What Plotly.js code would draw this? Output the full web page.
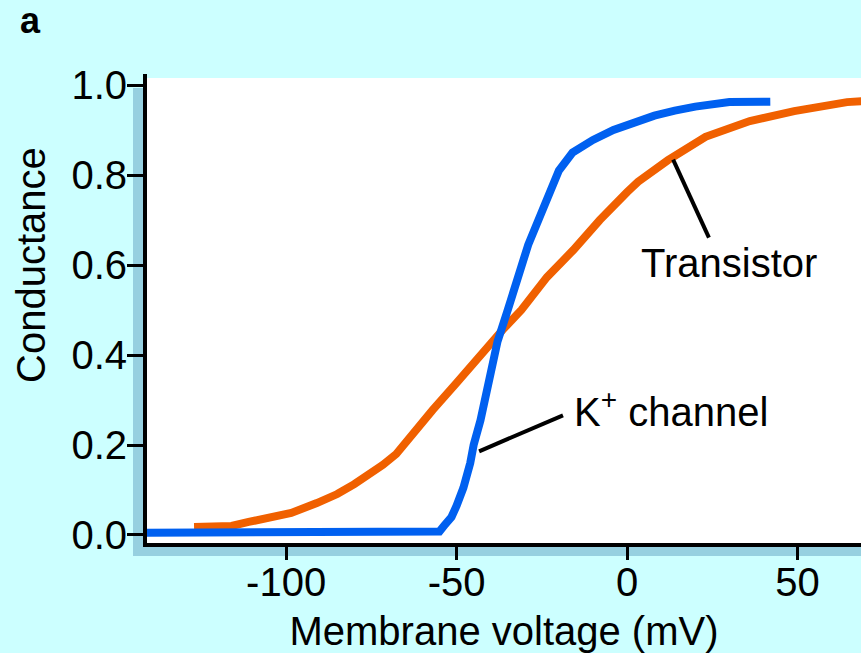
<!DOCTYPE html>
<html>
<head>
<meta charset="utf-8">
<script src="https://cdn.plot.ly/plotly-3.0.1.min.js"></script>
<style>
  html, body { margin: 0; padding: 0; background: #ccffff; }
  #chart { width: 861px; height: 653px; }
</style>
</head>
<body>
<div id="chart"></div>
<script>
// K+ channel conductance vs membrane voltage (mV)
const kVoltage = [-141, -100, -60, -55, -53.5, -51.5, -50, -48, -46, -45, -43, -41, -38, -35, -32, -29, -26, -23, -20, -16, -10, -4, 2, 8, 14, 20, 30, 42];
const kConductance = [0.005, 0.005, 0.005, 0.008, 0.022, 0.04, 0.065, 0.105, 0.16, 0.2, 0.255, 0.32, 0.43, 0.5, 0.575, 0.645, 0.70, 0.76, 0.81, 0.85, 0.878, 0.9, 0.918, 0.932, 0.943, 0.952, 0.962, 0.963];

// Transistor conductance vs membrane voltage (mV)
const trVoltage = [-127, -116, -111, -105, -98.5, -91, -85, -80, -76, -71.6, -67.7, -62.8, -57, -50, -45, -41, -36, -31, -23.5, -15.8, -8, 0, 3.2, 12, 23, 36, 49, 64.5, 72];
const trConductance = [0.018, 0.02, 0.029, 0.04, 0.049, 0.071, 0.091, 0.113, 0.133, 0.156, 0.18, 0.228, 0.278, 0.338, 0.384, 0.42, 0.46, 0.5, 0.573, 0.633, 0.70, 0.762, 0.785, 0.833, 0.885, 0.92, 0.942, 0.962, 0.966];

// Tick labels
const xTickVals = [-100, -50, 0, 50];
const xTickText = ['-100', '-50', '0', '50'];
const yTickVals = [0, 0.2, 0.4, 0.6, 0.8, 1.0];
const yTickText = ['0.0', '0.2', '0.4', '0.6', '0.8', '1.0'];

const FONT = 'Liberation Sans, Arial, Helvetica, sans-serif';
const SHADOW = '#96d0e0';

const traces = [
  {
    x: trVoltage, y: trConductance, name: 'Transistor',
    type: 'scatter', mode: 'lines',
    line: { color: '#f06000', width: 8 },
    hoverinfo: 'skip'
  },
  {
    x: kVoltage, y: kConductance, name: 'K+ channel',
    type: 'scatter', mode: 'lines',
    line: { color: '#0060f0', width: 8 },
    hoverinfo: 'skip'
  }
];

const layout = {
  width: 861, height: 653,
  margin: { l: 147, r: 0, t: 78, b: 110, pad: 0 },
  paper_bgcolor: '#ccffff',
  plot_bgcolor: '#ffffff',
  showlegend: false,
  font: { family: FONT, size: 40, color: '#000' },
  xaxis: {
    range: [-140.8, 68.6],
    tickvals: xTickVals, ticktext: xTickText,
    ticks: 'outside', ticklen: 13, tickwidth: 3, tickcolor: '#000',
    ticklabelstandoff: -12,
    showline: true, linewidth: 4, linecolor: '#000',
    showgrid: false, zeroline: false,
    tickfont: { family: FONT, size: 40, color: '#000' },
    title: { text: 'Membrane voltage (mV)', font: { family: FONT, size: 40, color: '#000' }, standoff: 16 },
    automargin: false
  },
  yaxis: {
    range: [-0.0178, 1.0156],
    tickvals: yTickVals, ticktext: yTickText,
    ticks: 'outside', ticklen: 16, tickwidth: 3, tickcolor: '#000',
    ticklabelstandoff: -8,
    showline: true, linewidth: 4, linecolor: '#000',
    showgrid: false, zeroline: false,
    tickfont: { family: FONT, size: 40, color: '#000' },
    automargin: false
  },
  shapes: [
    // drop shadow left of the plot
    { type: 'rect', xref: 'paper', yref: 'paper', x0: -0.0196, x1: -0.0056, y0: -0.028, y1: 0.9785,
      fillcolor: SHADOW, line: { width: 0 }, layer: 'below' },
    // drop shadow under the plot
    { type: 'rect', xref: 'paper', yref: 'paper', x0: -0.0196, x1: 1.0, y0: -0.028, y1: -0.0086,
      fillcolor: SHADOW, line: { width: 0 }, layer: 'below' },
    // y-axis line stub above plot
    { type: 'rect', xref: 'paper', yref: 'paper', x0: -0.0056, x1: 0, y0: 1, y1: 1.0086,
      fillcolor: '#000', line: { width: 0 }, layer: 'above' },
    // pointer to K+ channel curve
    { type: 'line', xref: 'x', yref: 'y', x0: -43.4, y0: 0.186, x1: -18.8, y1: 0.266,
      line: { color: '#000', width: 4 } },
    // pointer to Transistor curve
    { type: 'line', xref: 'x', yref: 'y', x0: 13.5, y0: 0.834, x1: 24.0, y1: 0.661,
      line: { color: '#000', width: 4 } }
  ],
  annotations: [
    { text: 'Conductance', textangle: -90, xref: 'paper', yref: 'paper',
      x: -0.1625, y: 0.598, xanchor: 'center', yanchor: 'middle', showarrow: false,
      font: { family: FONT, size: 40, color: '#000' } },
    { text: '<b>a</b>', xref: 'paper', yref: 'paper', x: -0.18, y: 1.1226,
      xanchor: 'left', yanchor: 'middle', showarrow: false,
      font: { family: FONT, size: 36, color: '#000' } },
    { text: 'K<sup>+</sup> channel', xref: 'x', yref: 'y', x: -16.1, y: 0.28,
      xanchor: 'left', yanchor: 'middle', showarrow: false,
      font: { family: FONT, size: 40, color: '#000' } },
    { text: 'Transistor', xref: 'x', yref: 'y', x: 3.5, y: 0.604,
      xanchor: 'left', yanchor: 'middle', showarrow: false,
      font: { family: FONT, size: 40, color: '#000' } }
  ]
};

Plotly.newPlot('chart', traces, layout, { staticPlot: true, displayModeBar: false });
</script>
</body>
</html>
